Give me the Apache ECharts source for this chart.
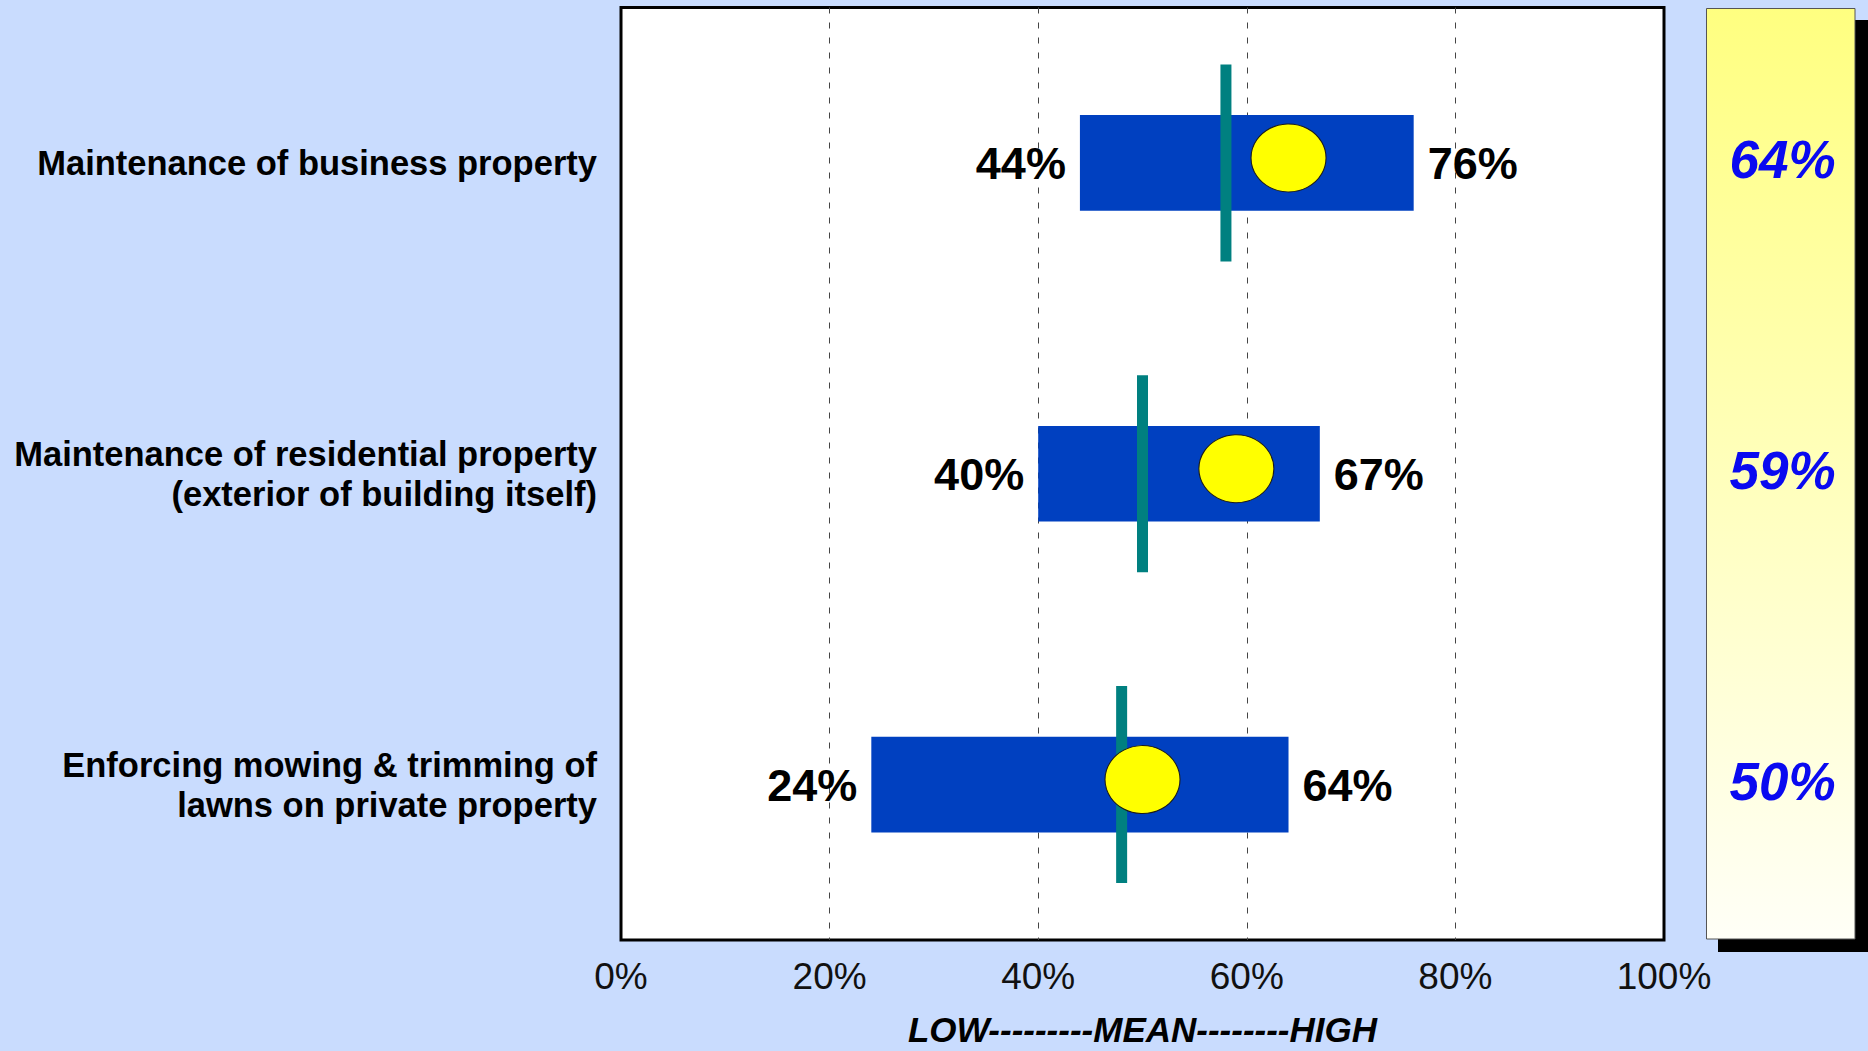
<!DOCTYPE html>
<html>
<head>
<meta charset="utf-8">
<title>Property maintenance ratings</title>
<style>
  html, body { margin: 0; padding: 0; background: #C9DCFE; }
  #chart { width: 1868px; height: 1051px; }
</style>
<script src="https://cdn.jsdelivr.net/npm/echarts@6/dist/echarts.min.js"></script>
</head>
<body>
<div id="chart"></div>
<script>
// Service categories (top to bottom)
const categories = [
  'Maintenance of business property',
  'Maintenance of residential property\n(exterior of building itself)',
  'Enforcing mowing & trimming of\nlawns on private property'
];
// Low / high ends of the comparison range (%)
const lowValues = [44, 40, 24];
const highValues = [76, 67, 64];
// Mean of the comparison group (%)
const meanValues = [58, 50, 48];
// This community's score (%)
const cityScores = [64, 59, 50];
// Horizontal axis
const xMin = 0;
const xMax = 100;
const xStep = 20;
const axisTitle = 'LOW---------MEAN--------HIGH';

const FONT = '"Liberation Sans", Arial, Helvetica, sans-serif';

const chart = echarts.init(document.getElementById('chart'), null, { renderer: 'svg' });

const rangeData = categories.map((c, i) => [lowValues[i], highValues[i], i]);
const meanData = categories.map((c, i) => [meanValues[i], i]);
const scoreData = categories.map((c, i) => [cityScores[i], i]);
const panelData = categories.map((c, i) => [0.5, i, cityScores[i]]);

const option = {
  backgroundColor: '#C9DCFE',
  animation: false,
  graphic: [
    // drop shadow behind the score panel
    { type: 'rect', z: 0, shape: { x: 1718, y: 20, width: 150, height: 932 }, style: { fill: '#000' } },
    // score panel
    {
      type: 'rect', z: 1,
      shape: { x: 1706.5, y: 8.5, width: 148.5, height: 930.5 },
      style: {
        fill: new echarts.graphic.LinearGradient(0, 0, 0, 1, [
          { offset: 0, color: '#FFFF80' },
          { offset: 1, color: '#FFFFF7' }
        ]),
        stroke: '#555',
        lineWidth: 1
      }
    }
  ],
  grid: [
    {
      left: 621, right: 204, top: 7.5, bottom: 111,
      outerBoundsMode: 'none', containLabel: false,
      show: true, backgroundColor: '#FFFFFF', borderColor: '#000', borderWidth: 3
    },
    { left: 1706, width: 149, top: 7.5, bottom: 111, outerBoundsMode: 'none', show: false }
  ],
  xAxis: [
    {
      gridIndex: 0,
      type: 'value', min: xMin, max: xMax, interval: xStep,
      axisLine: { show: false },
      axisTick: { show: false },
      axisLabel: {
        formatter: '{value}%',
        fontFamily: FONT, fontSize: 37, color: '#111', margin: 18
      },
      splitLine: {
        show: true, showMinLine: false, showMaxLine: false,
        lineStyle: { color: '#444', width: 1, type: [6, 9] }
      },
      name: axisTitle,
      nameLocation: 'middle',
      nameGap: 72,
      nameTextStyle: {
        fontFamily: FONT, fontSize: 35, fontWeight: 'bold', fontStyle: 'italic', color: '#000'
      }
    },
    { gridIndex: 1, type: 'value', min: 0, max: 1, show: false }
  ],
  yAxis: [
    {
      gridIndex: 0,
      type: 'category', data: categories, inverse: true,
      axisLine: { show: false },
      axisTick: { show: false },
      splitLine: { show: false },
      axisLabel: {
        fontFamily: FONT, fontSize: 34.5, fontWeight: 'bold', color: '#000',
        lineHeight: 40, margin: 24, align: 'right'
      }
    },
    { gridIndex: 1, type: 'category', data: categories, inverse: true, show: false }
  ],
  series: [
    {
      // low–high range bar with its end labels
      type: 'custom',
      xAxisIndex: 0, yAxisIndex: 0,
      data: rangeData,
      encode: { x: [0, 1], y: 2 },
      z: 2,
      renderItem: function (params, api) {
        const lo = api.coord([api.value(0), api.value(2)]);
        const hi = api.coord([api.value(1), api.value(2)]);
        const h = api.size([0, 1])[1] * 0.308;
        return {
          type: 'group',
          children: [
            {
              type: 'rect',
              shape: { x: lo[0], y: lo[1] - h / 2, width: hi[0] - lo[0], height: h },
              style: { fill: '#0040C0' }
            },
            {
              type: 'text',
              style: {
                text: api.value(0) + '%', x: lo[0] - 14, y: lo[1] + 1,
                align: 'right', verticalAlign: 'middle',
                fill: '#000', fontFamily: FONT, fontSize: 45, fontWeight: 'bold'
              }
            },
            {
              type: 'text',
              style: {
                text: api.value(1) + '%', x: hi[0] + 14, y: hi[1] + 1,
                align: 'left', verticalAlign: 'middle',
                fill: '#000', fontFamily: FONT, fontSize: 45, fontWeight: 'bold'
              }
            }
          ]
        };
      }
    },
    {
      // group mean marker
      type: 'scatter',
      xAxisIndex: 0, yAxisIndex: 0,
      data: meanData,
      symbol: 'rect',
      symbolSize: [11, 197],
      itemStyle: { color: '#008080', opacity: 1 },
      z: 3
    },
    {
      // community score marker
      type: 'scatter',
      xAxisIndex: 0, yAxisIndex: 0,
      data: scoreData,
      symbol: 'circle',
      symbolSize: [75, 68],
      symbolOffset: [0, -5],
      itemStyle: { color: '#FFFF00', borderColor: '#1a1a1a', borderWidth: 1, opacity: 1 },
      z: 4
    },
    {
      // score panel values
      type: 'custom',
      xAxisIndex: 1, yAxisIndex: 1,
      data: panelData,
      encode: { x: 0, y: 1 },
      z: 5,
      renderItem: function (params, api) {
        const p = api.coord([api.value(0), api.value(1)]);
        return {
          type: 'text',
          style: {
            text: api.value(2) + '%', x: p[0] + 2, y: p[1] - 3,
            align: 'center', verticalAlign: 'middle',
            fill: '#0A0AF0', fontFamily: FONT, fontSize: 53,
            fontWeight: 'bold', fontStyle: 'italic'
          }
        };
      }
    }
  ]
};

chart.setOption(option);
</script>
</body>
</html>
